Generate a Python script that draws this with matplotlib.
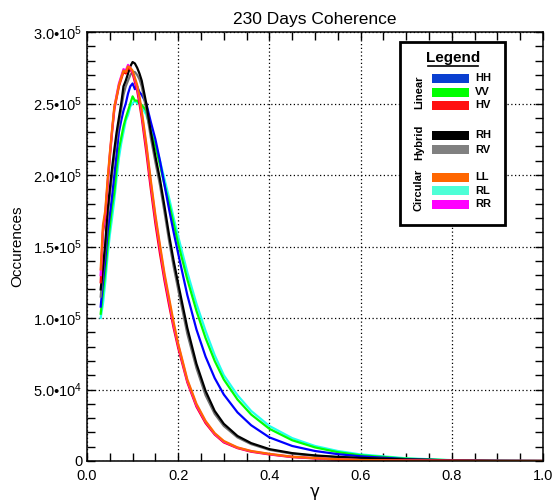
import matplotlib
matplotlib.use("Agg")
import matplotlib.pyplot as plt
from matplotlib.patches import Rectangle
from matplotlib.ticker import MultipleLocator
import numpy as np

plt.rcParams['font.family'] = ['Liberation Sans', 'DejaVu Sans']
plt.rcParams['mathtext.fontset'] = 'custom'
plt.rcParams['mathtext.rm'] = 'Liberation Sans'
plt.rcParams['mathtext.it'] = 'Liberation Sans:italic'

# coherence bins (gamma)
gamma = [0.03, 0.035, 0.04, 0.045, 0.05, 0.055, 0.06, 0.065, 0.07, 0.075, 0.08, 0.085,
         0.09, 0.095, 0.10, 0.105, 0.11, 0.115, 0.12, 0.13, 0.14, 0.15, 0.16, 0.17,
         0.18, 0.19, 0.20, 0.22, 0.24, 0.26, 0.28, 0.30, 0.33, 0.36, 0.40, 0.45,
         0.50, 0.55, 0.60, 0.70, 0.80, 0.90, 1.00]

# occurrences in thousands
HH = [108, 125, 140, 160, 172, 185, 200, 215, 230, 238, 245, 250, 257, 262, 264, 260, 262, 258,
      256, 250, 237, 225, 210, 193, 176, 160, 145, 116, 92, 73, 58, 46.5, 34, 25, 16.5, 10.5,
      7, 4.8, 3.3, 1.3, 0.4, 0.1, 0]
VV = [103, 118, 132, 150, 164, 178, 188, 205, 218, 226, 234, 240, 245, 250, 255, 252, 252, 250,
      249, 245, 230, 220, 207, 193, 180, 166, 152, 127, 105, 86, 70, 57, 43, 32.5, 22.5, 14.5,
      9.5, 6.2, 4.0, 1.6, 0.5, 0.1, 0]
HV = [125, 160, 170, 192, 212, 230, 246, 254, 262, 267, 272, 271, 275, 274, 271, 265, 259, 250,
      240, 216, 190, 166, 145, 126, 109, 93, 79, 55, 38, 26.5, 18.5, 13, 9, 6.5, 4.6, 2.7,
      1.8, 1.0, 0.6, 0.25, 0.1, 0, 0]
RH = [120, 135, 152, 175, 190, 205, 218, 230, 240, 250, 262, 266, 271, 276, 279, 278, 275, 271,
      266, 250, 230, 213, 197, 178, 158, 140, 124, 93, 68, 49, 35, 26, 17.5, 12.5, 8.3, 5.5,
      3.9, 2.9, 2.2, 1.1, 0.4, 0.1, 0]
RV = [115, 132, 148, 170, 186, 200, 214, 226, 236, 246, 256, 262, 266, 270, 272, 272, 270, 267,
      262, 246, 226, 209, 193, 174, 154, 136, 120, 89, 65, 46, 33, 24.5, 16.5, 11.8, 7.8, 5.1,
      3.6, 2.6, 2.0, 1.0, 0.3, 0.1, 0]
LL = [134, 165, 175, 196, 215, 232, 248, 255, 263, 268, 273, 272, 276, 275, 273, 268, 263, 255,
      245, 222, 196, 172, 151, 131, 114, 97, 82, 57, 40, 28, 19.5, 14, 9.5, 7, 5, 3,
      2, 1.2, 0.7, 0.3, 0.1, 0, 0]
RL = [100, 110, 125, 143, 158, 170, 183, 198, 212, 222, 230, 238, 242, 248, 250, 252, 250, 251,
      248, 242, 232, 222, 210, 197, 184, 170, 157, 132, 110, 91, 74, 60, 46, 35, 24.5, 16,
      10.5, 7, 4.6, 1.9, 0.6, 0.1, 0]
RR = [130, 162, 173, 194, 214, 231, 247, 256, 264, 269, 274, 273, 277, 275, 272, 267, 261, 253,
      243, 220, 194, 170, 149, 129, 112, 95, 81, 56, 39, 27.5, 19, 13.5, 9.3, 6.8, 4.8, 2.9,
      1.9, 1.1, 0.65, 0.3, 0.1, 0, 0]

series = [("RL", RL, "#22ffee"), ("VV", VV, "#00ff00"), ("HH", HH, "#0000ff"),
          ("RV", RV, "#707070"), ("RH", RH, "#000000"),
          ("HV", HV, "#ff0000"), ("RR", RR, "#ff00ff"), ("LL", LL, "#ff6600")]

fig = plt.figure(figsize=(5.55, 5.0), dpi=100)
ax = fig.add_axes([87/555, 1-461/500, (543-87)/555, (461-32)/500])

for name, vals, col in series:
    ax.plot(gamma, np.array(vals) * 1000, color=col, lw=1.6)

ax.set_xlim(0, 1.0)
ax.set_ylim(0, 3.0e5)
ax.xaxis.set_minor_locator(MultipleLocator(0.05))
ax.yaxis.set_minor_locator(MultipleLocator(1e4))
ytl = ['0', r'5.0•10$^4$', r'1.0•10$^5$', r'1.5•10$^5$', r'2.0•10$^5$', r'2.5•10$^5$', r'3.0•10$^5$']
ax.set_yticks([0, 5e4, 1e5, 1.5e5, 2e5, 2.5e5, 3e5])
ax.set_yticklabels(ytl)
ax.set_xticks([0, 0.2, 0.4, 0.6, 0.8, 1.0])
ax.set_xticklabels(['0.0', '0.2', '0.4', '0.6', '0.8', '1.0'])
ax.tick_params(which='both', direction='in', top=True, right=True, length=6, width=1,
               labelsize=10.5, colors='black')
ax.tick_params(axis='x', pad=6)
ax.grid(True, which='major', linestyle=(0, (1, 2)), color='black', lw=0.9)
for s in ax.spines.values():
    s.set_linewidth(1.1)

ax.set_title("230 Days Coherence", fontsize=12.5, pad=6)
ax.set_ylabel("Occurences", fontsize=11, labelpad=6)
ax.set_xlabel("γ", fontsize=12, labelpad=0, family='DejaVu Sans')

# custom legend box (figure pixel coords -> figure fraction)
def fx(x):
    return x / 555
def fy(y):
    return 1 - y / 500

fig.add_artist(Rectangle((fx(400), fy(225)), fx(505) - fx(400), fy(42) - fy(225),
                         transform=fig.transFigure, facecolor='white', edgecolor='black',
                         lw=2.0, zorder=5))
fig.text(fx(453), fy(58), "Legend", ha='center', va='center', fontsize=11,
         fontweight='bold', zorder=6)
fig.add_artist(plt.Line2D([fx(428), fx(478)], [fy(66), fy(66)], transform=fig.transFigure,
                          color='black', lw=1.2, zorder=6))

leg_names = ["HH", "VV", "HV", "RH", "RV", "LL", "RL", "RR"]
leg_cols = ["#0a3fd0", "#00ff00", "#ff1010", "#000000", "#808080", "#ff6600", "#4dffd6", "#ff00ff"]
leg_y = [78, 92, 105.5, 135.5, 150, 177, 190.5, 204]
for n, c, yy in zip(leg_names, leg_cols, leg_y):
    fig.add_artist(Rectangle((fx(432), fy(yy + 4.5)), fx(469) - fx(432), fy(yy - 4.5) - fy(yy + 4.5),
                             transform=fig.transFigure, facecolor=c, edgecolor='none', zorder=6))
    fig.text(fx(475), fy(yy), n, ha='left', va='center', fontsize=8, fontweight='bold', zorder=6)

for lab, yy in [("Linear", 92), ("Hybrid", 142), ("Circular", 190)]:
    fig.text(fx(419), fy(yy), lab, ha='center', va='center', rotation=90, fontsize=8,
             fontweight='bold', zorder=6)

fig.savefig("out.png", dpi=100)
